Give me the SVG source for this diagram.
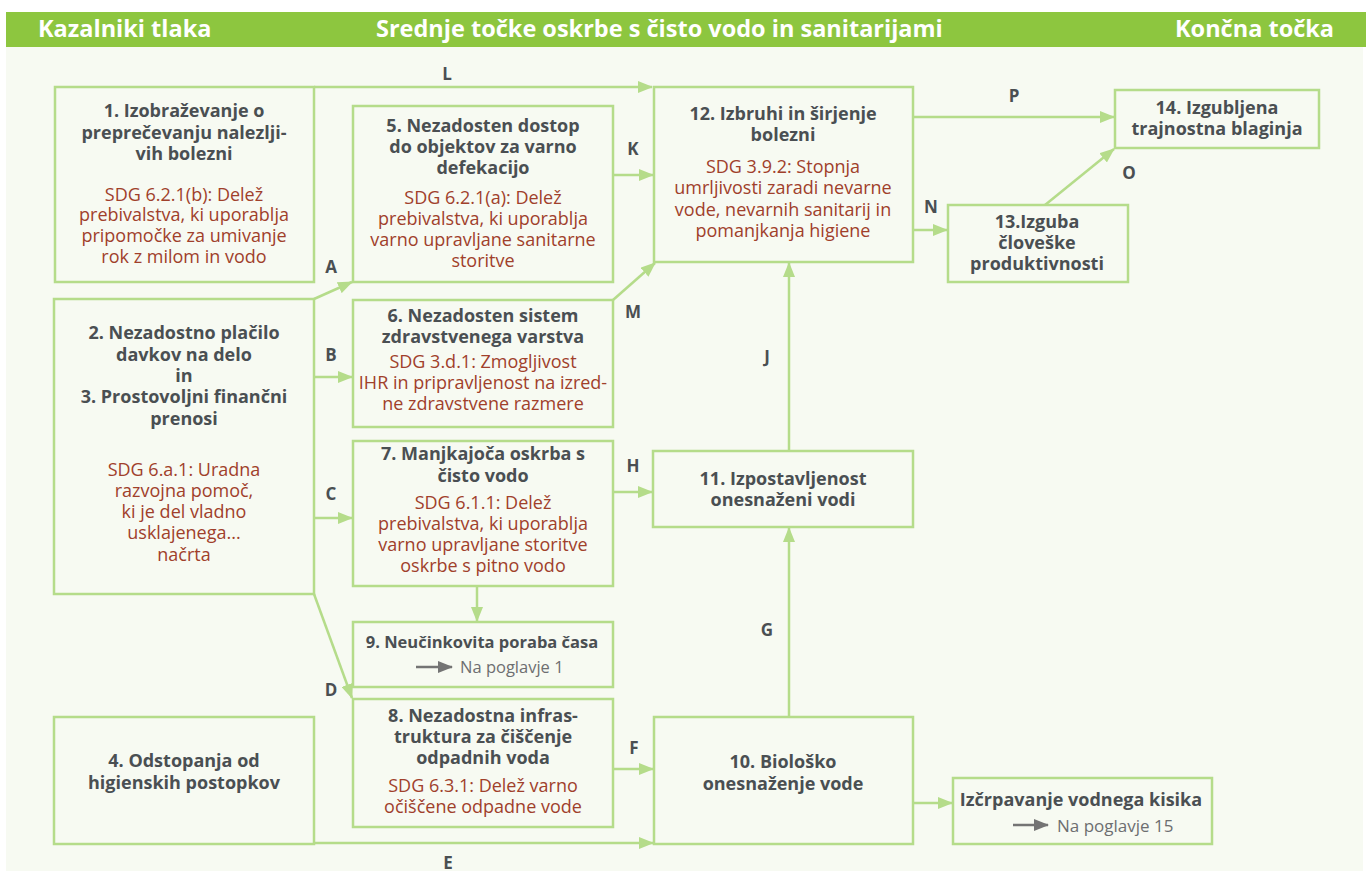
<svg xmlns="http://www.w3.org/2000/svg" width="1368" height="877" viewBox="0 0 1368 877">
<style>
.bg{fill:#f7faf2}
.hd{fill:#8dc63f}
.h{font-family:"Open Sans","DejaVu Sans",sans-serif;font-weight:700;font-size:23.5px;fill:#ffffff}
.box{fill:none;stroke:#b5dc8a;stroke-width:2.5}
.b{font-family:"Open Sans","DejaVu Sans",sans-serif;font-weight:700;font-size:18px;fill:#4a4f52;text-anchor:middle}
.r{font-family:"Open Sans","DejaVu Sans",sans-serif;font-size:18px;fill:#a0402b;text-anchor:middle}
.g{font-family:"Open Sans","DejaVu Sans",sans-serif;font-size:16.5px;fill:#6d6e70}
.lb{font-family:"Open Sans","DejaVu Sans",sans-serif;font-weight:700;font-size:17px;fill:#4a4f52;text-anchor:middle}
.c{fill:none;stroke:#b5dc8a;stroke-width:2.5}
.ga{fill:none;stroke:#747474;stroke-width:2.5}
</style>
<defs>
<marker id="ah" markerUnits="userSpaceOnUse" markerWidth="15" markerHeight="12" refX="14" refY="6" orient="auto">
<path d="M0,0 L15,6 L0,12 z" fill="#b5dc8a"/>
</marker>
<marker id="gh" markerUnits="userSpaceOnUse" markerWidth="15" markerHeight="12" refX="14" refY="6" orient="auto">
<path d="M0,0 L15,6 L0,12 z" fill="#747474"/>
</marker>
</defs>
<rect class="bg" x="6" y="47" width="1357" height="824"/>
<g id="header">
<rect class="hd" x="6" y="12" width="1360" height="35"/>
<text class="h" x="38" y="37">Kazalniki tlaka</text>
<text class="h" x="376" y="37">Srednje točke oskrbe s čisto vodo in sanitarijami</text>
<text class="h" x="1175" y="37">Končna točka</text>
</g>
<g id="connectors">
<line class="c" x1="314" y1="87" x2="652" y2="87" marker-end="url(#ah)"/>
<line class="c" x1="314" y1="299" x2="352" y2="282" marker-end="url(#ah)"/>
<line class="c" x1="314" y1="377" x2="352" y2="377" marker-end="url(#ah)"/>
<line class="c" x1="314" y1="518" x2="352" y2="518" marker-end="url(#ah)"/>
<line class="c" x1="314" y1="594" x2="352" y2="698" marker-end="url(#ah)"/>
<line class="c" x1="314" y1="843" x2="653" y2="843" marker-end="url(#ah)"/>
<line class="c" x1="613" y1="769" x2="653" y2="769" marker-end="url(#ah)"/>
<line class="c" x1="613" y1="175" x2="653" y2="175" marker-end="url(#ah)"/>
<line class="c" x1="613" y1="300" x2="655" y2="263" marker-end="url(#ah)"/>
<line class="c" x1="613" y1="492" x2="652" y2="492" marker-end="url(#ah)"/>
<line class="c" x1="477" y1="586" x2="477" y2="621" marker-end="url(#ah)"/>
<line class="c" x1="789" y1="451" x2="789" y2="263" marker-end="url(#ah)"/>
<line class="c" x1="789" y1="716" x2="789" y2="528" marker-end="url(#ah)"/>
<line class="c" x1="913" y1="230" x2="947" y2="230" marker-end="url(#ah)"/>
<line class="c" x1="913" y1="117" x2="1114" y2="117" marker-end="url(#ah)"/>
<line class="c" x1="1045" y1="205" x2="1114" y2="149" marker-end="url(#ah)"/>
<line class="c" x1="913" y1="803" x2="952" y2="803" marker-end="url(#ah)"/>
<text class="lb" x="447" y="80">L</text>
<text class="lb" x="633" y="155">K</text>
<text class="lb" x="331" y="273">A</text>
<text class="lb" x="331" y="361">B</text>
<text class="lb" x="331" y="500">C</text>
<text class="lb" x="331" y="696">D</text>
<text class="lb" x="448" y="869">E</text>
<text class="lb" x="634" y="754">F</text>
<text class="lb" x="633" y="472">H</text>
<text class="lb" x="633" y="318">M</text>
<text class="lb" x="767" y="363">J</text>
<text class="lb" x="767" y="636">G</text>
<text class="lb" x="931" y="213">N</text>
<text class="lb" x="1014" y="102">P</text>
<text class="lb" x="1129" y="179">O</text>
</g>
<g id="n1">
<rect class="box" x="55" y="87" width="259" height="195"/>
<text class="b" x="184" y="117">1. Izobraževanje o</text>
<text class="b" x="184" y="139">preprečevanju nalezlji-</text>
<text class="b" x="184" y="160">vih bolezni</text>
<text class="r" x="184" y="201">SDG 6.2.1(b): Delež</text>
<text class="r" x="184" y="221">prebivalstva, ki uporablja</text>
<text class="r" x="184" y="242">pripomočke za umivanje</text>
<text class="r" x="184" y="263">rok z milom in vodo</text>
</g>
<g id="n2">
<rect class="box" x="54" y="299" width="260" height="295"/>
<text class="b" x="184" y="339">2. Nezadostno plačilo</text>
<text class="b" x="184" y="361">davkov na delo</text>
<text class="b" x="184" y="382">in</text>
<text class="b" x="184" y="403">3. Prostovoljni finančni</text>
<text class="b" x="184" y="425">prenosi</text>
<text class="r" x="184" y="476">SDG 6.a.1: Uradna</text>
<text class="r" x="184" y="497">razvojna pomoč,</text>
<text class="r" x="184" y="518">ki je del vladno</text>
<text class="r" x="184" y="539">usklajenega...</text>
<text class="r" x="184" y="561">načrta</text>
</g>
<g id="n4">
<rect class="box" x="54" y="717" width="260" height="127"/>
<text class="b" x="184" y="767">4. Odstopanja od</text>
<text class="b" x="184" y="789">higienskih postopkov</text>
</g>
<g id="n5">
<rect class="box" x="353" y="106" width="260" height="176"/>
<text class="b" x="483" y="132">5. Nezadosten dostop</text>
<text class="b" x="483" y="153">do objektov za varno</text>
<text class="b" x="483" y="174">defekacijo</text>
<text class="r" x="483" y="204">SDG 6.2.1(a): Delež</text>
<text class="r" x="483" y="225">prebivalstva, ki uporablja</text>
<text class="r" x="483" y="246">varno upravljane sanitarne</text>
<text class="r" x="483" y="267">storitve</text>
</g>
<g id="n6">
<rect class="box" x="353" y="300" width="260" height="127"/>
<text class="b" x="483" y="322">6. Nezadosten sistem</text>
<text class="b" x="483" y="343">zdravstvenega varstva</text>
<text class="r" x="483" y="368">SDG 3.d.1: Zmogljivost</text>
<text class="r" x="483" y="389">IHR in pripravljenost na izred-</text>
<text class="r" x="483" y="410">ne zdravstvene razmere</text>
</g>
<g id="n7">
<rect class="box" x="353" y="441" width="260" height="145"/>
<text class="b" x="483" y="460">7. Manjkajoča oskrba s</text>
<text class="b" x="483" y="482">čisto vodo</text>
<text class="r" x="483" y="509">SDG 6.1.1: Delež</text>
<text class="r" x="483" y="530">prebivalstva, ki uporablja</text>
<text class="r" x="483" y="551">varno upravljane storitve</text>
<text class="r" x="483" y="572">oskrbe s pitno vodo</text>
</g>
<g id="n9">
<rect class="box" x="353" y="622" width="260" height="65"/>
<text class="b" x="482" y="648" style="font-size:16.5px">9. Neučinkovita poraba časa</text>
<line class="ga" x1="416" y1="667" x2="452" y2="667" marker-end="url(#gh)"/>
<text class="g" x="460" y="673">Na poglavje 1</text>
</g>
<g id="n8">
<rect class="box" x="353" y="699" width="260" height="128"/>
<text class="b" x="483" y="722">8. Nezadostna infras-</text>
<text class="b" x="483" y="743">truktura za čiščenje</text>
<text class="b" x="483" y="764">odpadnih voda</text>
<text class="r" x="483" y="792">SDG 6.3.1: Delež varno</text>
<text class="r" x="483" y="813">očiščene odpadne vode</text>
</g>
<g id="n12">
<rect class="box" x="654" y="87" width="259" height="175"/>
<text class="b" x="783" y="120">12. Izbruhi in širjenje</text>
<text class="b" x="783" y="141">bolezni</text>
<text class="r" x="783" y="173">SDG 3.9.2: Stopnja</text>
<text class="r" x="783" y="194">umrljivosti zaradi nevarne</text>
<text class="r" x="783" y="216">vode, nevarnih sanitarij in</text>
<text class="r" x="783" y="237">pomanjkanja higiene</text>
</g>
<g id="n11">
<rect class="box" x="653" y="451" width="260" height="76"/>
<text class="b" x="783" y="485">11. Izpostavljenost</text>
<text class="b" x="783" y="506">onesnaženi vodi</text>
</g>
<g id="n10">
<rect class="box" x="654" y="717" width="259" height="127"/>
<text class="b" x="783" y="768">10. Biološko</text>
<text class="b" x="783" y="790">onesnaženje vode</text>
</g>
<g id="n13">
<rect class="box" x="948" y="205" width="180" height="77"/>
<text class="b" x="1037" y="228">13.Izguba</text>
<text class="b" x="1037" y="249">človeške</text>
<text class="b" x="1037" y="270">produktivnosti</text>
</g>
<g id="n14">
<rect class="box" x="1115" y="90" width="204" height="58"/>
<text class="b" x="1217" y="114">14. Izgubljena</text>
<text class="b" x="1217" y="135">trajnostna blaginja</text>
</g>
<g id="n15">
<rect class="box" x="953" y="778" width="259" height="66"/>
<text class="b" x="1081" y="806">Izčrpavanje vodnega kisika</text>
<line class="ga" x1="1013" y1="825" x2="1048" y2="825" marker-end="url(#gh)"/>
<text class="g" x="1057" y="832" style="font-size:17px">Na poglavje 15</text>
</g>
</svg>
